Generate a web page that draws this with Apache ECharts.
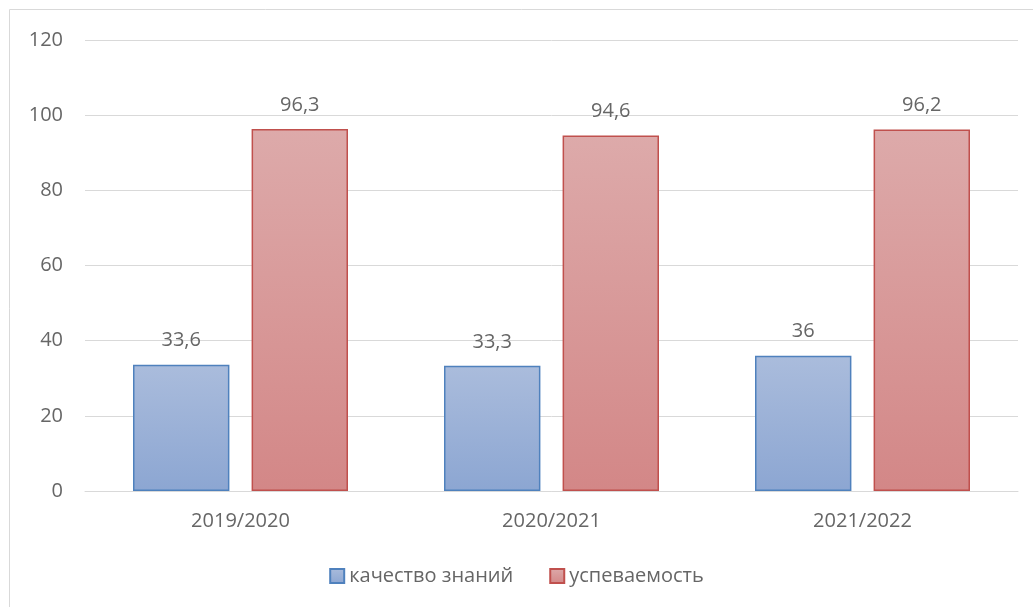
<!DOCTYPE html>
<html><head><meta charset="utf-8">
<script src="https://cdn.jsdelivr.net/npm/echarts@6/dist/echarts.min.js"></script>
<style>html,body{margin:0;padding:0;background:#fff}#c{width:1033px;height:607px}</style>
</head><body><div id="c"></div>
<script>
const categories = ['2019/2020', '2020/2021', '2021/2022'];
const quality = [33.6, 33.3, 36];
const progress = [96.3, 94.6, 96.2];
const seriesNames = ['качество знаний', 'успеваемость'];

const font = '"Open Sans", "Liberation Sans", sans-serif';
const txt = '#666666';
const chart = echarts.init(document.getElementById('c'));
const grad = (a, b) => new echarts.graphic.LinearGradient(0, 0, 0, 1, [{offset: 0, color: a}, {offset: 1, color: b}]);
const lbl = {show: true, position: 'top', distance: 14, color: txt, fontSize: 20, fontFamily: font,
  formatter: p => String(p.value).replace('.', ',')};
chart.setOption({
  animation: false,
  graphic: [{type: 'rect', shape: {x: 9.5, y: 9.5, width: 1030, height: 610}, style: {fill: 'none', stroke: '#d9d9d9', lineWidth: 1}}],
  grid: {left: 85, right: 15, top: 40, bottom: 116},
  legend: {bottom: 16, left: 'center', icon: 'rect', itemWidth: 14, itemHeight: 14, itemGap: 36,
    textStyle: {color: txt, fontSize: 20, fontFamily: font}},
  xAxis: {type: 'category', data: categories,
    axisLine: {lineStyle: {color: '#d9d9d9'}}, axisTick: {show: false},
    axisLabel: {color: txt, fontSize: 20, fontFamily: font, margin: 20}},
  yAxis: {type: 'value', min: 0, max: 120, interval: 20,
    axisLine: {show: false}, axisTick: {show: false},
    splitLine: {lineStyle: {color: '#d9d9d9', width: 1}},
    axisLabel: {color: txt, fontSize: 20, fontFamily: font, margin: 22}},
  series: [
    {name: seriesNames[0], type: 'bar', data: quality, barWidth: '31%', barGap: '23%',
     itemStyle: {color: grad('#aabcdc', '#8ca6d2'), borderColor: '#4f81bd', borderWidth: 1.5}, label: lbl},
    {name: seriesNames[1], type: 'bar', data: progress, barWidth: '31%',
     itemStyle: {color: grad('#ddaaaa', '#d38787'), borderColor: '#c0504d', borderWidth: 1.5}, label: lbl}
  ]
});
</script></body></html>
